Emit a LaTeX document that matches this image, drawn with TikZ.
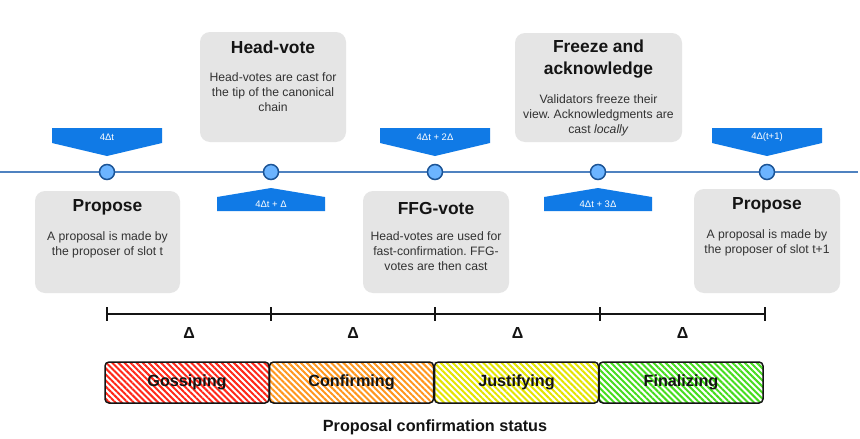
\documentclass[tikz,border=0pt]{standalone}
\usepackage{fontspec}
\setmainfont{Liberation Sans}
\usetikzlibrary{patterns.meta,calc}
\frenchspacing
\definecolor{ink}{RGB}{20,20,20}
\definecolor{body}{RGB}{50,50,50}
\definecolor{tlblue}{RGB}{79,130,192}
\definecolor{flag}{RGB}{16,122,230}
\definecolor{dotfill}{RGB}{108,180,255}
\definecolor{dotline}{RGB}{28,84,150}
\definecolor{card}{RGB}{229,229,229}
\definecolor{hatchred}{RGB}{255,40,25}
\definecolor{hatchorange}{RGB}{255,150,30}
\definecolor{hatchyellow}{RGB}{228,228,0}
\definecolor{hatchgreen}{RGB}{70,220,30}
\tikzset{
  cardbox/.style={fill=card, rounded corners=10pt, inner sep=0pt},
  cardtitle/.style={text=ink, align=center, font=\fontsize{17.4}{22}\selectfont\bfseries},
  cardtext/.style={text=body, align=center, font=\fontsize{12.2}{15}\selectfont},
  flagtext/.style={text=white, font=\fontsize{9.5}{11}\selectfont},
  dot/.style={circle, draw=dotline, fill=dotfill, line width=1.5pt, minimum size=15pt, inner sep=0pt},
  statusbar/.style={draw=ink, line width=1.5pt, rounded corners=4pt, minimum width=164pt,
    minimum height=41pt, inner sep=0pt, font=\fontsize{16.2}{18}\selectfont\bfseries, text=ink},
  hatch/.style={preaction={fill=white}, pattern={Lines[angle=-45, distance=4.3pt, line width=2pt]}, pattern color=#1}
}
\begin{document}
\begin{tikzpicture}[x=1pt, y=-1pt]
  \useasboundingbox[fill=white] (0,0) rectangle (860,439);
  % timeline
  \coordinate (tlstart) at (0,172);
  \coordinate (tlend) at (858,172);
  \draw[tlblue, line width=1.6pt] (tlstart) -- (tlend);
  \foreach \x [count=\i from 0] in {107,271,435,598,767}
    \node[dot] (p\i) at (\x,172) {};
  % time flags above the line
  \foreach \x/\lab/\nm in {107/4Δt/fa, 435/4Δt + 2Δ/fb, 767/4Δ(t+1)/fc} {
    \fill[flag] (\x-55,128) -- (\x+55,128) -- (\x+55,143) -- (\x,156) -- (\x-55,143) -- cycle;
    \node[flagtext] (\nm) at (\x,137.5) {\lab};
  }
  % time flags below the line
  \foreach \x/\lab/\nm in {271/4Δt + Δ/fd, 598/4Δt + 3Δ/fe} {
    \fill[flag] (\x-54,197) -- (\x,188) -- (\x+54,197) -- (\x+54,211) -- (\x-54,211) -- cycle;
    \node[flagtext] (\nm) at (\x,204.5) {\lab};
  }
  % cards above
  \node[cardbox, minimum width=146pt, minimum height=110pt] (headcard) at (273,87) {};
  \node[cardtitle] (headtitle) at (273,47) {Head-vote};
  \node[cardtext] (headtext) at (273,92) {Head-votes are cast for\\the tip of the canonical\\chain};
  \node[cardbox, minimum width=167pt, minimum height=109pt] (freezecard) at (598.5,87.5) {};
  \node[cardtitle] (freezetitle) at (598.5,59) {Freeze and\\acknowledge};
  \node[cardtext] (freezetext) at (598.5,115) {Validators freeze their\\view. Acknowledgments are\\cast \textit{locally}};
  % cards below
  \node[cardbox, minimum width=145pt, minimum height=102pt] (propcard) at (107.5,242) {};
  \node[cardtitle] (proptitle) at (107.5,207) {Propose};
  \node[cardtext] (proptext) at (107.5,244.5) {A proposal is made by\\the proposer of slot t};
  \node[cardbox, minimum width=146pt, minimum height=102pt] (ffgcard) at (436,242) {};
  \node[cardtitle] (ffgtitle) at (436,208.5) {FFG-vote};
  \node[cardtext] (ffgtext) at (436,251) {Head-votes are used for\\fast-confirmation. FFG-\\votes are then cast};
  \node[cardbox, minimum width=146pt, minimum height=104pt] (nextcard) at (767,241) {};
  \node[cardtitle] (nexttitle) at (767,205) {Propose};
  \node[cardtext] (nexttext) at (767,243) {A proposal is made by\\the proposer of slot t+1};
  % delta scale
  \foreach \x [count=\i from 0] in {107,271,435,600,765} {
    \coordinate (t\i) at (\x,314);
    \draw[ink, line width=1.5pt] (\x,307) -- (\x,321);
  }
  \draw[ink, line width=1.8pt] (t0) -- (t4);
  \foreach \a/\b in {0/1,1/2,2/3,3/4}
    \node[text=ink, font=\fontsize{16}{18}\selectfont\bfseries] (d\a) at ($(t\a)!0.5!(t\b)+(0,19)$) {Δ};
  % confirmation status
  \node[statusbar, hatch=hatchred] (gossip) at (187,382.5) {Gossiping};
  \node[statusbar, hatch=hatchorange] (confirm) at (351.5,382.5) {Confirming};
  \node[statusbar, hatch=hatchyellow] (justify) at (516.5,382.5) {Justifying};
  \node[statusbar, hatch=hatchgreen] (finalize) at (681,382.5) {Finalizing};
  \node[text=ink, font=\fontsize{16.2}{18}\selectfont\bfseries] (status) at (435,427) {Proposal confirmation status};
\end{tikzpicture}
\end{document}
